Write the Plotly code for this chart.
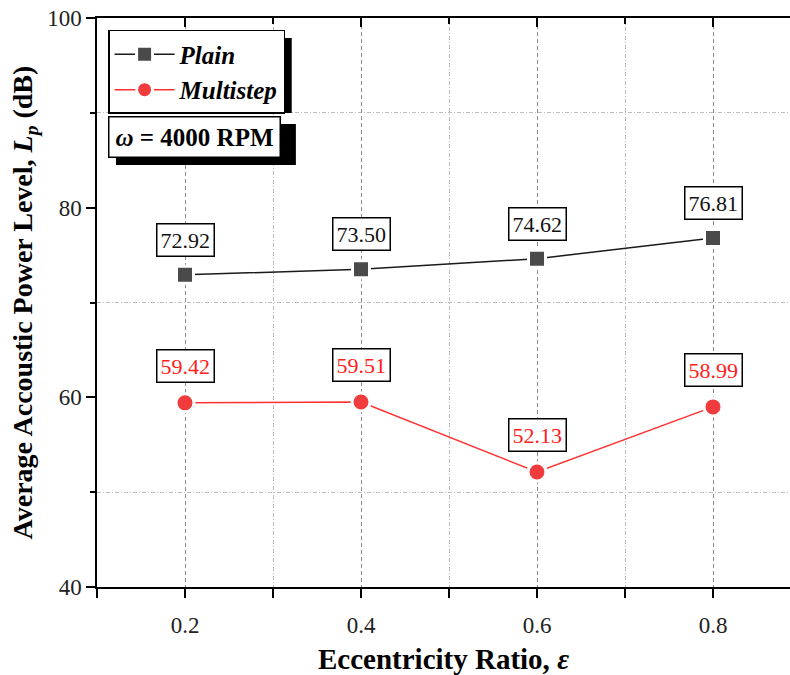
import plotly.graph_objects as go

ecc = [0.2, 0.4, 0.6, 0.8]
plain = [72.92, 73.50, 74.62, 76.81]
multistep = [59.42, 59.51, 52.13, 58.99]
plain_labels = ["72.92", "73.50", "74.62", "76.81"]
multi_labels = ["59.42", "59.51", "52.13", "58.99"]

SERIF = "Liberation Serif, Times New Roman, serif"
RED = "#f03c3c"

fig = go.Figure()
fig.add_trace(go.Scatter(
    x=ecc, y=plain, mode="lines+markers", name="<b><i>Plain</i></b>",
    line=dict(color="#1a1a1a", width=1.5),
    marker=dict(symbol="square", size=17, color="#4a4a4a", line=dict(color="white", width=3)),
))
fig.add_trace(go.Scatter(
    x=ecc, y=multistep, mode="lines+markers", name="<b><i>Multistep</i></b>",
    line=dict(color="#ff3030", width=1.5),
    marker=dict(symbol="circle", size=18, color=RED, line=dict(color="white", width=3)),
))

for xv, yv, t in zip(ecc, plain, plain_labels):
    fig.add_annotation(x=xv, y=yv, xref="x", yref="y", text=t, showarrow=False, yshift=35,
                       font=dict(family=SERIF, size=22, color="#111111"),
                       bgcolor="white", bordercolor="black", borderwidth=1.5, borderpad=3)
for xv, yv, t in zip(ecc, multistep, multi_labels):
    fig.add_annotation(x=xv, y=yv, xref="x", yref="y", text=t, showarrow=False, yshift=37,
                       font=dict(family=SERIF, size=22, color="#ff2020"),
                       bgcolor="white", bordercolor="black", borderwidth=1.5, borderpad=3)

# omega box with shadow
fig.add_shape(type="rect", xref="paper", yref="paper", x0=0.0274, x1=0.287, y0=0.7417, y1=0.8137,
              fillcolor="black", line=dict(width=0), layer="above")
fig.add_annotation(xref="paper", yref="paper", x=0.016, y=0.8278, xanchor="left", yanchor="top",
                   text="<b><i>ω</i> = 4000 RPM</b>", showarrow=False,
                   font=dict(family=SERIF, size=25, color="black"),
                   bgcolor="white", bordercolor="black", borderwidth=1.5, borderpad=6)
# legend shadow
fig.add_shape(type="rect", xref="paper", yref="paper", x0=0.0274, x1=0.281, y0=0.833, y1=0.9649,
              fillcolor="black", line=dict(width=0), layer="above")

GRID_MAJOR = "#8c8c8c"
GRID_MINOR = "#bdbdbd"

fig.update_layout(
    width=790, height=675,
    margin=dict(l=97, r=0, t=18, b=88),
    plot_bgcolor="white", paper_bgcolor="white",
    font=dict(family=SERIF, color="#222222"),
    showlegend=True,
    legend=dict(x=0.016, y=0.979, xanchor="left", yanchor="top",
                bgcolor="white", bordercolor="black", borderwidth=1.5,
                font=dict(family=SERIF, size=25, color="black"),
                itemwidth=60, tracegroupgap=0),
    xaxis=dict(range=[0.1, 0.8875], tick0=0.2, dtick=0.2, tickformat=".1f",
               automargin=False,
               showline=True, linecolor="black", linewidth=1.5,
               ticks="outside", ticklen=9, tickwidth=1.5, tickcolor="black",
               ticklabelstandoff=8,
               tickfont=dict(family=SERIF, size=23, color="#222222"),
               showgrid=True, gridcolor=GRID_MAJOR, griddash="4px,3px", gridwidth=1,
               zeroline=False,
               minor=dict(dtick=0.1, tick0=0.1, ticks="outside", ticklen=9, tickwidth=1.5,
                          tickcolor="black", showgrid=True, gridcolor=GRID_MINOR,
                          griddash="4px,2px,1px,2px", gridwidth=1),
               title=dict(text="<b>Eccentricity Ratio, <i>ε</i></b>",
                          font=dict(family=SERIF, size=29, color="black"), standoff=14)),
    xaxis2=dict(range=[0.1, 0.8875], overlaying="x", side="top", matches="x",
                tick0=0.2, dtick=0.2, showticklabels=False, automargin=False,
                showline=True, linecolor="black", linewidth=1.5,
                ticks="inside", ticklen=9, tickwidth=1.5, tickcolor="black",
                showgrid=False, zeroline=False,
                minor=dict(dtick=0.1, tick0=0.1, ticks="inside", ticklen=6, tickwidth=1.5,
                           tickcolor="black", showgrid=False)),
    yaxis=dict(range=[40, 100], tick0=40, dtick=20, automargin=False,
               showline=True, linecolor="black", linewidth=1.5,
               ticks="outside", ticklen=9, tickwidth=1.5, tickcolor="black",
               tickfont=dict(family=SERIF, size=23, color="#222222"),
               showgrid=False, zeroline=False,
               minor=dict(dtick=10, tick0=40, ticks="outside", ticklen=5, tickwidth=1.5,
                          tickcolor="black", showgrid=True, gridcolor=GRID_MINOR,
                          griddash="4px,2px,1px,2px", gridwidth=1),
               title=dict(text="<b>Average Accoustic Power Level, <i>L<sub>p</sub></i> (dB)</b>",
                          font=dict(family=SERIF, size=28, color="black"), standoff=6)),
)

# invisible trace to activate the top axis
fig.add_trace(go.Scatter(x=ecc, y=plain, xaxis="x2", mode="none", showlegend=False,
                         hoverinfo="skip"))

fig.write_html("out.html", config={"displayModeBar": False},
               post_script="document.body.style.margin='0';")
